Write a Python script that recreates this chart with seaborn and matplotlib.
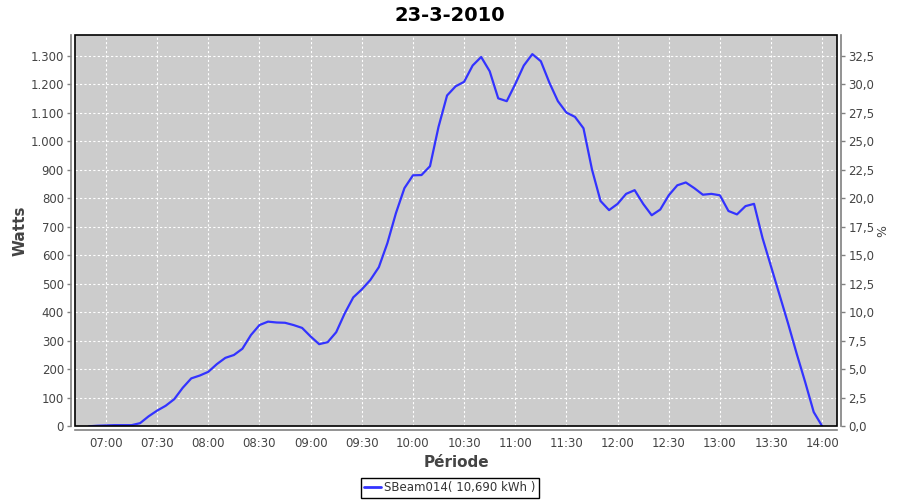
import matplotlib
matplotlib.use("Agg")
import matplotlib.pyplot as plt
import matplotlib.dates as mdates
from matplotlib.patches import Rectangle
from matplotlib.lines import Line2D
import seaborn as sns
import pandas as pd

times = ["06:50", "06:55", "07:00", "07:05", "07:10", "07:15", "07:20", "07:25", "07:30", "07:35",
         "07:40", "07:45", "07:50", "07:55", "08:00", "08:05", "08:10", "08:15", "08:20", "08:25",
         "08:30", "08:35", "08:40", "08:45", "08:50", "08:55", "09:00", "09:05", "09:10", "09:15",
         "09:20", "09:25", "09:30", "09:35", "09:40", "09:45", "09:50", "09:55", "10:00", "10:05",
         "10:10", "10:15", "10:20", "10:25", "10:30", "10:35", "10:40", "10:45", "10:50", "10:55",
         "11:00", "11:05", "11:10", "11:15", "11:20", "11:25", "11:30", "11:35", "11:40", "11:45",
         "11:50", "11:55", "12:00", "12:05", "12:10", "12:15", "12:20", "12:25", "12:30", "12:35",
         "12:40", "12:45", "12:50", "12:55", "13:00", "13:05", "13:10", "13:15", "13:20", "13:25",
         "13:30", "13:35", "13:40", "13:45", "13:50", "13:55", "14:00"]
watts = [0, 2, 3, 4, 4, 4, 11, 35, 55, 72,
         95, 135, 168, 178, 191, 218, 240, 250, 272, 320,
         355, 367, 364, 363, 355, 345, 315, 288, 295, 330,
         396, 452, 480, 513, 558, 642, 747, 835, 880, 881,
         912, 1050, 1160, 1192, 1208, 1265, 1295, 1245, 1150, 1140,
         1200, 1265, 1305, 1280, 1205, 1140, 1100, 1085, 1045, 900,
         790, 758, 780, 815, 828, 780, 740, 760, 810, 845,
         855, 835, 812, 815, 810, 755, 743, 772, 780, 660,
         560, 460, 360, 255, 155, 50, 0]

title = "23-3-2010"
series_name = "SBeam014( 10,690 kWh )"
x_label = "Période"
y_label = "Watts"
y2_label = "%"

df = pd.DataFrame({"t": pd.to_datetime(["2010-03-23 " + s for s in times]), "W": watts})

sns.set_style("white")
plt.rcParams["font.family"] = ["DejaVu Sans"]

fig = plt.figure(figsize=(9, 5), dpi=100)
ax = fig.add_axes([75 / 900, 1 - 426.3 / 500, (837.3 - 75) / 900, (426.3 - 35.3) / 500])
ax.set_facecolor("#cccccc")

line_color = "#3333ff"
sns.lineplot(data=df, x="t", y="W", ax=ax, color=line_color, linewidth=1.6)

x0 = pd.Timestamp("2010-03-23 06:41:50")
x1 = pd.Timestamp("2010-03-23 14:08:50")
ax.set_xlim(x0, x1)
ymax = 1371
ax.set_ylim(0, ymax)

ax.xaxis.set_major_locator(mdates.MinuteLocator(byminute=[0, 30]))
ax.xaxis.set_major_formatter(mdates.DateFormatter("%H:%M"))
ax.set_yticks(range(0, 1301, 100))
ax.set_yticklabels([f"{v:,}".replace(",", ".") for v in range(0, 1301, 100)])

ax.grid(True, color="white", linestyle=(0, (2, 2)), linewidth=0.8)
ax.set_axisbelow(True)

gray = "#808080"
for s in ["top", "right"]:
    ax.spines[s].set_visible(False)
for s in ["left", "bottom"]:
    ax.spines[s].set_position(("outward", 3))
    ax.spines[s].set_color(gray)
    ax.spines[s].set_linewidth(1.2)
ax.tick_params(axis="both", which="major", length=3, width=1, color=gray,
               labelsize=8.5, labelcolor="#444444", direction="out", pad=2)

ax.set_xlabel(x_label, fontsize=11, fontweight="bold", color="#444444", labelpad=3)
ax.set_ylabel(y_label, fontsize=11, fontweight="bold", color="#444444", labelpad=2)

ax2 = ax.twinx()
ax2.set_ylim(0, ymax / 40)
pct = [i * 2.5 for i in range(14)]
ax2.set_yticks(pct)
ax2.set_yticklabels([f"{v:.1f}".replace(".", ",") for v in pct])
for s in ["top", "left", "bottom"]:
    ax2.spines[s].set_visible(False)
ax2.spines["right"].set_position(("outward", 3))
ax2.spines["right"].set_color(gray)
ax2.spines["right"].set_linewidth(1.2)
ax2.tick_params(axis="y", length=3, width=1, color=gray, labelsize=8.5,
                labelcolor="#444444", direction="out", pad=2)
ax2.set_ylabel(y2_label, fontsize=9, color="#444444", rotation=90, labelpad=1)

border = Rectangle((0, 0), 1, 1, transform=ax.transAxes, fill=False,
                   edgecolor="black", linewidth=1.2, clip_on=False, zorder=10)
ax.add_patch(border)

fig.text(0.5, 0.988, title, ha="center", va="top", fontsize=14, fontweight="bold", color="black")

handle = Line2D([0], [0], color=line_color, linewidth=2)
leg = fig.legend([handle], [series_name], loc="lower center", bbox_to_anchor=(0.5, 0.0),
                 frameon=True, fancybox=False, edgecolor="black", framealpha=1,
                 fontsize=8.5, handlelength=1.4, handletextpad=0.3, borderpad=0.3,
                 borderaxespad=0.2)
leg.get_frame().set_linewidth(1.0)
for t in leg.get_texts():
    t.set_color("#333333")

fig.savefig("out.png", dpi=100, facecolor="white")
